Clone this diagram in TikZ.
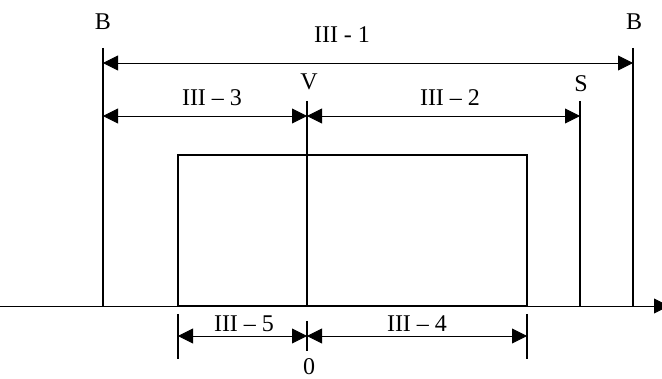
\documentclass[tikz,border=0pt]{standalone}
\usepackage{fontspec}
\setmainfont{Liberation Serif}
\usetikzlibrary{arrows.meta}
\begin{document}
\begin{tikzpicture}[x=1pt,y=1pt,
  lbl/.style={font=\fontsize{24}{24}\selectfont, inner sep=0pt},
  wall/.style={line width=1.8pt},
  axisline/.style={line width=0.9pt, -{Triangle[length=15pt,width=15pt]}},
  dimline/.style={line width=0.9pt, {Triangle[length=15pt,width=15pt]}-{Triangle[length=15pt,width=15pt]}},
]
\useasboundingbox (0,0) rectangle (662,378);
% key points
\coordinate (B1t) at (103,330); \coordinate (B1b) at (103,72);
\coordinate (B2t) at (633,330); \coordinate (B2b) at (633,72);
\coordinate (St) at (580,277);  \coordinate (Sb) at (580,72);
\coordinate (Vt) at (307,277);  \coordinate (Vb) at (307,72);
\coordinate (Rl) at (178,72);   \coordinate (Rr) at (527,223);
\coordinate (Ax0) at (0,72);    \coordinate (Ax1) at (669,72);
\coordinate (T1t) at (178,64);  \coordinate (T1b) at (178,19);
\coordinate (T2t) at (527,64);  \coordinate (T2b) at (527,19);
\coordinate (T0t) at (307,57);  \coordinate (T0b) at (307,27);
% axis
\draw[axisline] (Ax0) -- (Ax1);
% vertical lines
\draw[wall] (B1t) -- (B1b);
\draw[wall] (B2t) -- (B2b);
\draw[wall] (St) -- (Sb);
\draw[wall] (Vt) -- (Vb);
\draw[wall] (Rl) rectangle (Rr);
\draw[wall] (T1t) -- (T1b);
\draw[wall] (T2t) -- (T2b);
\draw[wall] (T0t) -- (T0b);
% dimension lines
\draw[dimline] (103,315) -- (633,315);
\draw[dimline] (103,262) -- (307,262);
\draw[dimline] (307,262) -- (580,262);
\draw[dimline] (178,42) -- (307,42);
\draw[dimline] (307,42) -- (527,42);
% labels
\node[lbl] (lB1) at (103,356) {B};
\node[lbl] (lB2) at (634,356) {B};
\node[lbl] (lS) at (581,294) {S};
\node[lbl] (lV) at (309,296) {V};
\node[lbl] (l0) at (309,11) {0};
\node[lbl] (l1) at (342,343) {III - 1};
\node[lbl] (l3) at (212,280) {III – 3};
\node[lbl] (l2) at (450,280) {III – 2};
\node[lbl] (l5) at (244,54) {III – 5};
\node[lbl] (l4) at (417,54) {III – 4};
\end{tikzpicture}
\end{document}
